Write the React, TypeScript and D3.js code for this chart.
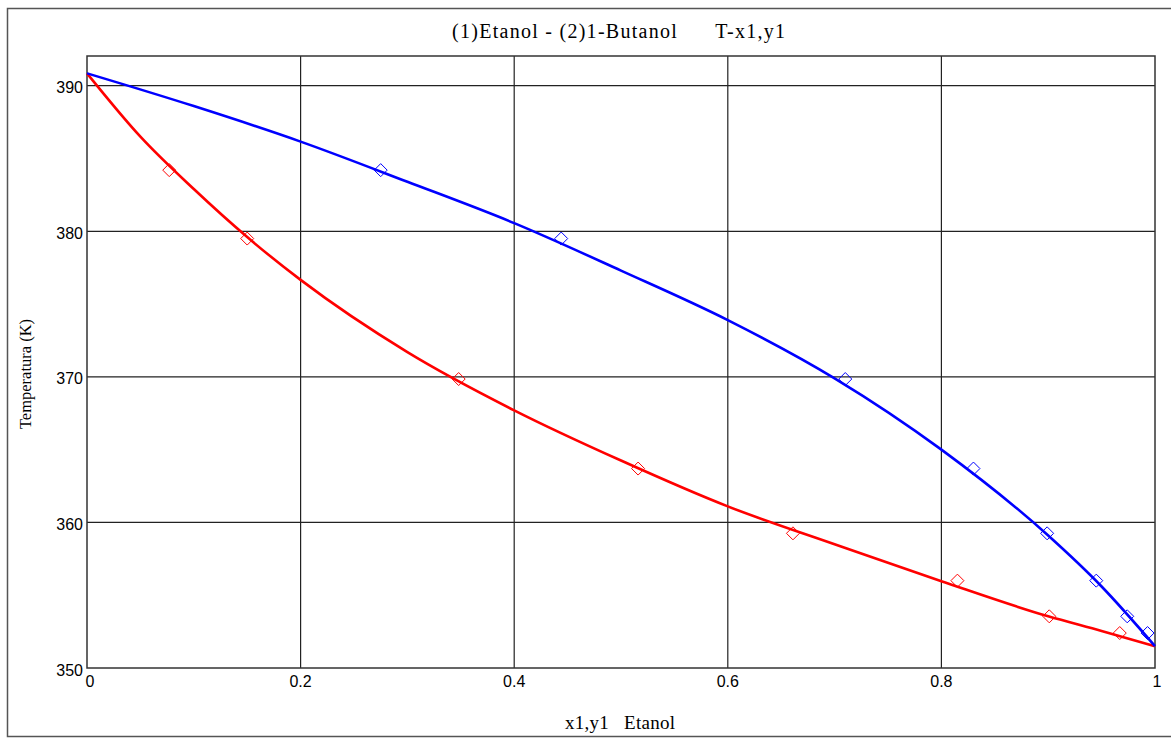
import React from "react";
import * as d3 from "d3";

// Liquid curve (T-x1)
const liqX = [0, 0.05, 0.1, 0.15, 0.2, 0.3, 0.4, 0.5, 0.6, 0.7, 0.8, 0.9, 0.95, 1];
const liqT = [390.85, 386.5, 382.9, 379.6, 376.66, 371.7, 367.7, 364.25, 361.1, 358.5, 355.96, 353.55, 352.55, 351.5];
// Vapour curve (T-y1)
const vapY = [0, 0.1, 0.2, 0.3, 0.4, 0.5, 0.6, 0.7, 0.8, 0.9, 0.95, 1];
const vapT = [390.85, 388.6, 386.16, 383.4, 380.56, 377.3, 373.9, 369.9, 365.0, 359.1, 355.6, 351.5];
// Experimental points
const expT = [384.2, 379.5, 369.85, 363.7, 359.25, 356.0, 353.55, 352.4];
const expX = [0.077, 0.15, 0.348, 0.516, 0.661, 0.815, 0.901, 0.967];
const expY = [0.275, 0.444, 0.71, 0.83, 0.899, 0.945, 0.974, 0.993];

const xTicks = [0, 0.2, 0.4, 0.6, 0.8, 1];
const yTicks = [350, 360, 370, 380, 390];

const title = "(1)Etanol - (2)1-Butanol      T-x1,y1";
const xTitle = "x1,y1   Etanol";
const yTitle = "Temperatura (K)";

export default function App() {
  const W = 1171, H = 738;
  const L = 87, R = 1155, T = 56, B = 668;
  const x = d3.scaleLinear().domain([0, 1]).range([L, R]);
  const y = d3.scaleLinear().domain([350, 390]).range([B, 85.7]);
  const line = d3
    .line<[number, number]>()
    .x((d) => x(d[0]))
    .y((d) => y(d[1]))
    .curve(d3.curveMonotoneX);
  const liq = line(liqX.map((v, i) => [v, liqT[i]]) as [number, number][]) || "";
  const vap = line(vapY.map((v, i) => [v, vapT[i]]) as [number, number][]) || "";
  const diamond = (cx: number, cy: number, r = 6.5) =>
    `M${cx},${cy - r}L${cx + r},${cy}L${cx},${cy + r}L${cx - r},${cy}Z`;
  const tickFont = "'Liberation Sans Narrow', 'Arial Narrow', 'Liberation Sans', sans-serif";
  const serif = "'Liberation Serif', 'Times New Roman', serif";
  return (
    <svg
      width={W}
      height={H}
      style={{ position: "absolute", left: 0, top: 0, background: "#fff" }}
    >
      <rect x={7.5} y={8.5} width={1180} height={728} fill="#fff" stroke="#555" strokeWidth={1.5} />
      <text
        x={452}
        y={38}
        textLength={333}
        lengthAdjust="spacing"
        xmlSpace="preserve"
        fontFamily={serif}
        fontSize={20}
        fill="#000"
        style={{ whiteSpace: "pre" }}
      >
        {title}
      </text>
      {/* grid */}
      {xTicks.slice(1, -1).map((t) => (
        <line key={"gx" + t} x1={x(t)} x2={x(t)} y1={T} y2={B} stroke="#222" strokeWidth={1.2} />
      ))}
      {yTicks.slice(1).map((t) => (
        <line key={"gy" + t} x1={L} x2={R} y1={y(t)} y2={y(t)} stroke="#222" strokeWidth={1.2} />
      ))}
      <rect x={L} y={T} width={R - L} height={B - T} fill="none" stroke="#333" strokeWidth={1.5} />
      {/* tick labels */}
      {xTicks.map((t) => (
        <text key={"tx" + t} x={x(t) + (t === 0 ? 3 : t === 1 ? 2 : 0)} y={687} textAnchor="middle" fontFamily={tickFont} fontSize={16} fill="#000">
          {d3.format("~g")(t)}
        </text>
      ))}
      {yTicks.map((t) => (
        <text key={"ty" + t} x={83} y={y(t) + 7.5} textAnchor="end" fontFamily={tickFont} fontSize={16} fill="#000">
          {t}
        </text>
      ))}
      <text
        x={565}
        y={729}
        textLength={110}
        lengthAdjust="spacing"
        xmlSpace="preserve"
        fontFamily={serif}
        fontSize={19}
        fill="#000"
        style={{ whiteSpace: "pre" }}
      >
        {xTitle}
      </text>
      <text
        transform={`translate(31,${374}) rotate(-90)`}
        textAnchor="middle"
        fontFamily={serif}
        fontSize={16.5}
        fill="#000"
      >
        {yTitle}
      </text>
      {/* curves */}
      <path d={liq} fill="none" stroke="#ff0000" strokeWidth={2.6} />
      <path d={vap} fill="none" stroke="#0000ff" strokeWidth={2.6} />
      {/* experimental points */}
      {expT.map((t, i) => (
        <path key={"px" + i} d={diamond(x(expX[i]), y(t))} fill="none" stroke="#ff0000" strokeWidth={1} />
      ))}
      {expT.map((t, i) => (
        <path key={"py" + i} d={diamond(x(expY[i]), y(t))} fill="none" stroke="#0000ff" strokeWidth={1} />
      ))}
    </svg>
  );
}
